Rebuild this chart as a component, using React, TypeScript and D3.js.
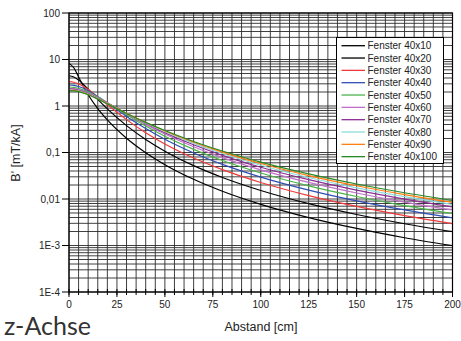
import React from "react";
import * as d3 from "d3";

const distances = [0, 2.5, 5, 10, 15, 20, 30, 40, 50, 65, 80, 100, 125, 150, 175, 200];
const f40x10 = [8.25, 6.64, 4.22, 1.75, 0.879, 0.502, 0.203, 0.0992, 0.0548, 0.0265, 0.01466, 0.00768, 0.00399, 0.00233, 0.00147, 0.00099];
const f40x20 = [4.47, 4.22, 3.61, 2.29, 1.39, 0.867, 0.378, 0.19, 0.1065, 0.0521, 0.029, 0.01524, 0.00794, 0.00464, 0.00294, 0.00198];
const f40x30 = [3.33, 3.24, 2.99, 2.26, 1.573, 1.068, 0.5095, 0.2666, 0.1528, 0.076, 0.0427, 0.0226, 0.01181, 0.00692, 0.00439, 0.00295];
const f40x40 = [2.83, 2.77, 2.62, 2.13, 1.599, 1.155, 0.597, 0.327, 0.192, 0.0976, 0.0555, 0.0296, 0.01558, 0.00915, 0.00582, 0.00392];
const f40x50 = [2.56, 2.52, 2.4, 2.015, 1.571, 1.179, 0.65, 0.3706, 0.224, 0.1166, 0.0672, 0.0362, 0.01921, 0.01133, 0.00722, 0.00487];
const f40x60 = [2.4, 2.37, 2.26, 1.924, 1.53, 1.175, 0.678, 0.401, 0.249, 0.1328, 0.0777, 0.0424, 0.0227, 0.01344, 0.00859, 0.00581];
const f40x70 = [2.3, 2.27, 2.17, 1.857, 1.491, 1.161, 0.691, 0.421, 0.267, 0.1463, 0.087, 0.0481, 0.026, 0.01547, 0.00992, 0.00673];
const f40x80 = [2.24, 2.2, 2.11, 1.807, 1.457, 1.143, 0.695, 0.433, 0.281, 0.1573, 0.095, 0.0533, 0.029, 0.01741, 0.01121, 0.00762];
const f40x90 = [2.19, 2.16, 2.07, 1.77, 1.43, 1.126, 0.694, 0.44, 0.29, 0.1661, 0.1018, 0.0579, 0.0319, 0.01926, 0.01245, 0.00849];
const f40x100 = [2.15, 2.12, 2.03, 1.742, 1.408, 1.111, 0.69, 0.444, 0.297, 0.1729, 0.1076, 0.062, 0.0346, 0.021, 0.01364, 0.00932];

const seriesNames = ["Fenster 40x10", "Fenster 40x20", "Fenster 40x30", "Fenster 40x40", "Fenster 40x50", "Fenster 40x60", "Fenster 40x70", "Fenster 40x80", "Fenster 40x90", "Fenster 40x100"];
const seriesValues = [f40x10, f40x20, f40x30, f40x40, f40x50, f40x60, f40x70, f40x80, f40x90, f40x100];
const seriesColors = ["#000000", "#000000", "#f03a3a", "#2f4fb5", "#4cb44c", "#c070c8", "#8e2c94", "#8fdcdc", "#ff7f10", "#2a8a2a"];

const xTicks = [0, 25, 50, 75, 100, 125, 150, 175, 200];
const yTicks = [100, 10, 1, 0.1, 0.01, 0.001, 0.0001];
const yTickLabels = ["100", "10", "1", "0,1", "0,01", "1E-3", "1E-4"];

const W = 461, H = 341;
const L = 69, R = 452.5, T = 13, B = 292;
const FONT = "'Liberation Sans', Arial, sans-serif";

export default function App() {
  const x = d3.scaleLinear().domain([0, 200]).range([L, R]);
  const y = d3.scaleLog().domain([0.0001, 100]).range([B, T]);

  const vGrid = d3.range(0, 201, 5);
  const hGrid: number[] = [];
  for (let e = -4; e <= 1; e++) for (let k = 1; k <= 9; k++) hGrid.push(k * Math.pow(10, e));
  hGrid.push(100);

  const line = d3
    .line<number>()
    .x((_, i) => x(distances[i]))
    .y((v) => y(v))
    .curve(d3.curveMonotoneX);

  const legX = 336.5, legY = 37.5, legW = 107, legH = 126;

  return (
    <svg width={W} height={H} style={{ position: "absolute", left: 0, top: 0, background: "#fff" }} fontFamily={FONT}>
      <defs>
        <clipPath id="plot">
          <rect x={L} y={T} width={R - L} height={B - T} />
        </clipPath>
      </defs>
      <rect x={0} y={0} width={W} height={H} fill="#fff" />
      {/* grid */}
      <g stroke="#2a2a2a" strokeWidth={0.9}>
        {vGrid.map((v) => (
          <line key={"v" + v} x1={x(v)} x2={x(v)} y1={T} y2={B} />
        ))}
        {hGrid.map((v, i) => (
          <line key={"h" + i} x1={L} x2={R} y1={y(v)} y2={y(v)} />
        ))}
      </g>
      {/* curves */}
      <g clipPath="url(#plot)" fill="none" strokeWidth={1.2}>
        {seriesValues.map((vals, i) => (
          <path key={i} d={line(vals) || ""} stroke={seriesColors[i]} />
        ))}
      </g>
      {/* frame */}
      <rect x={L} y={T} width={R - L} height={B - T} fill="none" stroke="#000" strokeWidth={1.2} />
      {/* y ticks */}
      <g>
        {yTicks.map((v, i) => (
          <g key={"yt" + i}>
            <line x1={L - 7} x2={L} y1={y(v)} y2={y(v)} stroke="#000" strokeWidth={1} />
            <text x={L - 9} y={y(v)} dy="0.35em" textAnchor="end" fontSize={10} fill="#222">
              {yTickLabels[i]}
            </text>
          </g>
        ))}
      </g>
      {/* x ticks */}
      <g>
        {vGrid.map((v) => (
          <line key={"xm" + v} x1={x(v)} x2={x(v)} y1={B - 3} y2={B + 3} stroke="#000" strokeWidth={1} />
        ))}
        {xTicks.map((v) => (
          <g key={"xt" + v}>
            <line x1={x(v)} x2={x(v)} y1={B} y2={B + 5} stroke="#000" strokeWidth={1} />
            <text x={x(v)} y={B + 16} textAnchor="middle" fontSize={10} fill="#222">
              {v}
            </text>
          </g>
        ))}
      </g>
      {/* axis titles */}
      <text x={261} y={331} textAnchor="middle" fontSize={12.5} fill="#222">
        Abstand [cm]
      </text>
      <text transform="translate(20,153) rotate(-90)" textAnchor="middle" fontSize={12.5} fill="#222">
        B' [mT/kA]
      </text>
      <text x={4} y={335} fontSize={25} fontFamily="Lato, 'Open Sans', sans-serif" fill="#333">
        z-Achse
      </text>
      {/* legend */}
      <rect x={legX} y={legY} width={legW} height={legH} fill="#fff" stroke="#000" strokeWidth={1} />
      {seriesNames.map((n, i) => {
        const ly = 45.7 + i * 12.33;
        return (
          <g key={"lg" + i}>
            <line x1={341.5} x2={365} y1={ly} y2={ly} stroke={seriesColors[i]} strokeWidth={1.3} />
            <text x={367.5} y={ly} dy="0.35em" fontSize={10} fill="#222">
              {n}
            </text>
          </g>
        );
      })}
    </svg>
  );
}
